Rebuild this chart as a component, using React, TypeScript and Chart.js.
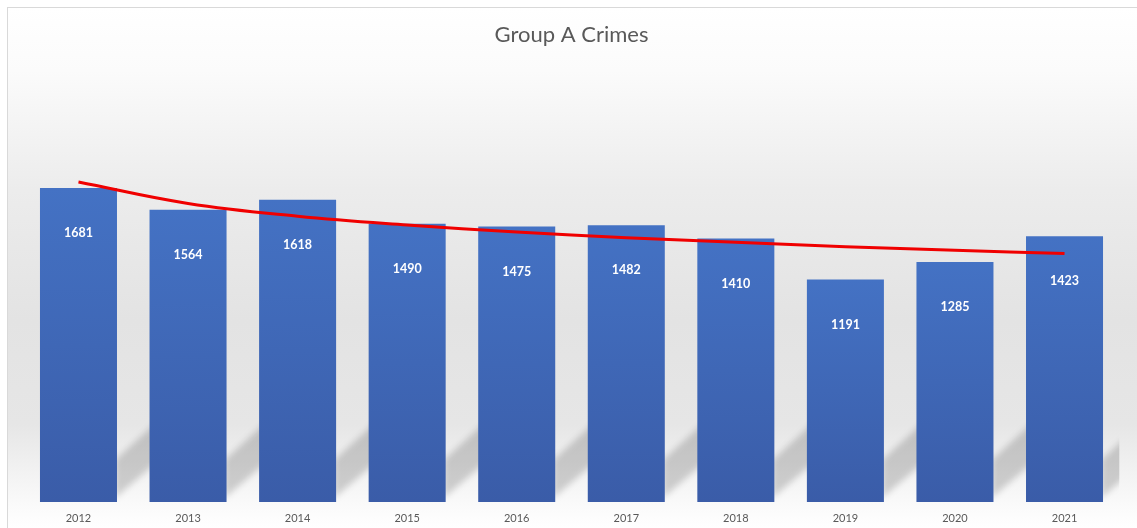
import React, { useEffect, useRef } from "react";
import { Chart, registerables } from "chart.js";

Chart.register(...registerables);

const years = ["2012", "2013", "2014", "2015", "2016", "2017", "2018", "2019", "2020", "2021"];
const crimes = [1681, 1564, 1618, 1490, 1475, 1482, 1410, 1191, 1285, 1423];
// logarithmic trendline
const trend = [1713, 1598, 1530, 1483, 1445, 1415, 1390, 1367, 1348, 1330];

const bgPlugin = {
  id: "bgGradient",
  beforeDraw(chart: any) {
    const { ctx, width, height } = chart;
    const g = ctx.createLinearGradient(0, 0, 0, height);
    g.addColorStop(0, "#ffffff");
    g.addColorStop(0.12, "#fbfbfb");
    g.addColorStop(0.35, "#ececec");
    g.addColorStop(0.6, "#e3e3e3");
    g.addColorStop(0.8, "#e6e6e6");
    g.addColorStop(0.93, "#f7f7f7");
    g.addColorStop(1, "#ffffff");
    ctx.save();
    ctx.fillStyle = g;
    ctx.fillRect(0, 0, width, height);
    ctx.restore();
  },
};

const shadowPlugin = {
  id: "barShadows",
  beforeDatasetsDraw(chart: any) {
    const { ctx, chartArea } = chart;
    const meta = chart.getDatasetMeta(1);
    ctx.save();
    ctx.beginPath();
    ctx.rect(chartArea.left, chartArea.top, chartArea.right - chartArea.left, chartArea.bottom - chartArea.top);
    ctx.clip();
    ctx.filter = "blur(3px)";
    ctx.fillStyle = "rgba(0,0,0,0.17)";
    meta.data.forEach((bar: any) => {
      const R = bar.x + bar.width / 2 - 2;
      const B = bar.base;
      ctx.beginPath();
      ctx.moveTo(R, B - 4);
      ctx.lineTo(R, B - 42);
      ctx.lineTo(R + 42, B - 80);
      ctx.lineTo(R + 42, B - 40);
      ctx.closePath();
      ctx.fill();
    });
    ctx.restore();
  },
};

const labelPlugin = {
  id: "barLabels",
  afterDatasetsDraw(chart: any) {
    const { ctx } = chart;
    const meta = chart.getDatasetMeta(1);
    ctx.save();
    ctx.fillStyle = "#ffffff";
    ctx.font = "bold 12.5px Lato";
    ctx.textAlign = "center";
    ctx.textBaseline = "middle";
    meta.data.forEach((bar: any, i: number) => {
      ctx.fillText(String(crimes[i]), bar.x, bar.y + 45);
    });
    ctx.restore();
  },
};

export default function App() {
  const ref = useRef<HTMLCanvasElement>(null);
  useEffect(() => {
    document.body.style.margin = "0";
    const chart = new Chart(ref.current!, {
      data: {
        labels: years,
        datasets: [
          {
            type: "line",
            label: "Trend",
            data: trend,
            borderColor: "#f00000",
            borderWidth: 3,
            pointRadius: 0,
            tension: 0.4,
            fill: false,
            order: 0,
          },
          {
            type: "bar",
            label: "Group A Crimes",
            data: crimes,
            order: 1,
            categoryPercentage: 1,
            barPercentage: 0.703,
            backgroundColor: (c: any) => {
              const ch = c.chart;
              if (!ch.chartArea || c.dataIndex === undefined) return "#4472c4";
              const y = ch.scales.y;
              const top = y.getPixelForValue(crimes[c.dataIndex]);
              const base = y.getPixelForValue(0);
              const g = ch.ctx.createLinearGradient(0, top, 0, base);
              g.addColorStop(0, "#4472c4");
              g.addColorStop(1, "#3a5ca8");
              return g;
            },
          },
        ],
      } as any,
      options: {
        animation: false,
        responsive: false,
        maintainAspectRatio: false,
        devicePixelRatio: 1,
        layout: { padding: { left: 15.7, right: 17.7, top: 0, bottom: 4 } },
        plugins: {
          legend: { display: false },
          tooltip: { enabled: false },
          title: {
            display: true,
            text: "Group A Crimes",
            color: "#595959",
            font: { family: "Lato", size: 22, weight: "normal" },
            padding: { top: 14, bottom: 5.3 },
          },
        },
        scales: {
          x: {
            offset: true,
            grid: { display: false, drawTicks: false, tickLength: 0 },
            border: { display: false },
            ticks: { color: "#595959", font: { family: "Lato", size: 11 }, padding: 9.4 },
            afterFit: (s: any) => {
              s.height = 22;
            },
          },
          y: {
            display: false,
            min: 0,
            max: 2400,
          },
        },
      },
      plugins: [bgPlugin, shadowPlugin, labelPlugin],
    } as any);
    return () => chart.destroy();
  }, []);
  return (
    <div
      style={{
        position: "fixed",
        left: 7,
        top: 7,
        width: 1130,
        height: 521,
        borderTop: "1px solid #d9d9d9",
        borderLeft: "1px solid #d9d9d9",
        boxSizing: "border-box",
      }}
    >
      <canvas ref={ref} width={1129} height={520} style={{ display: "block" }} />
    </div>
  );
}
